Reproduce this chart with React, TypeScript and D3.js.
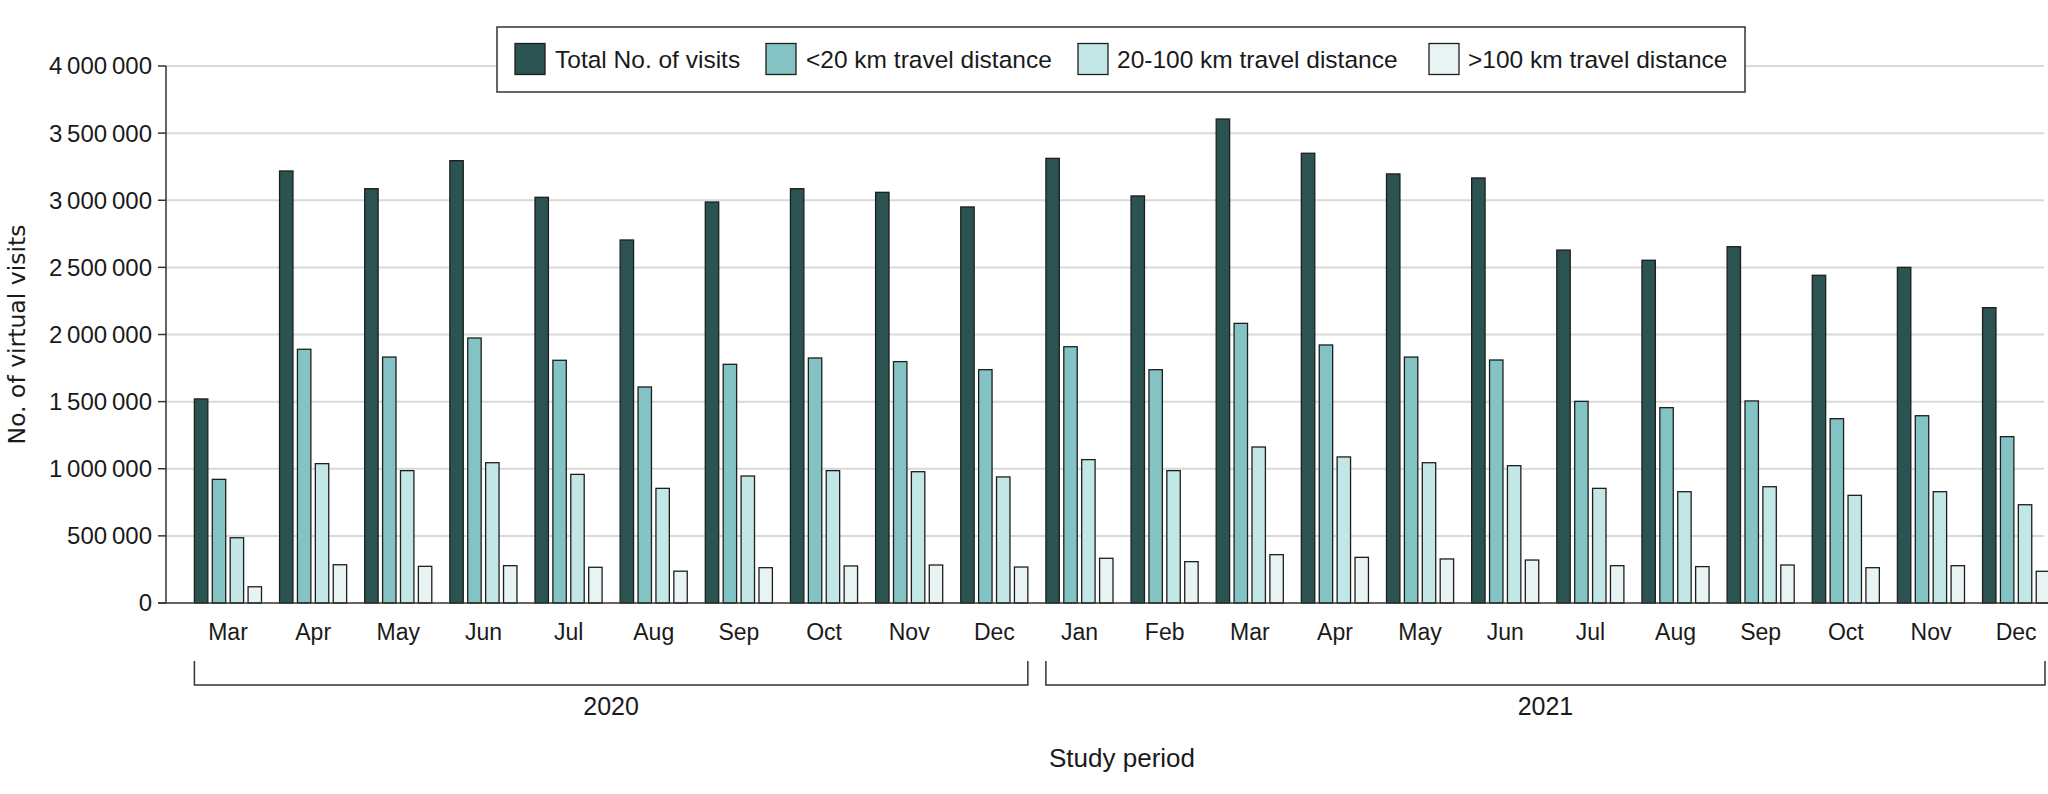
import React from "react";
import { scaleBand, scaleLinear, format } from "d3";

const months2020 = ["Mar", "Apr", "May", "Jun", "Jul", "Aug", "Sep", "Oct", "Nov", "Dec"];
const months2021 = ["Jan", "Feb", "Mar", "Apr", "May", "Jun", "Jul", "Aug", "Sep", "Oct", "Nov", "Dec"];
const years = ["2020", "2021"];

// values in visits
const totalVisits = [
  1520000, 3218000, 3086000, 3295000, 3022000, 2704000, 2987000, 3086000, 3059000, 2950000,
  3312000, 3032000, 3605000, 3350000, 3196000, 3166000, 2629000, 2553000, 2654000, 2441000, 2500000, 2200000,
];
const under20 = [
  921000, 1890000, 1832000, 1974000, 1808000, 1609000, 1778000, 1825000, 1798000, 1738000,
  1909000, 1738000, 2083000, 1922000, 1832000, 1810000, 1502000, 1455000, 1505000, 1373000, 1395000, 1239000,
];
const from20to100 = [
  486000, 1038000, 986000, 1045000, 958000, 854000, 946000, 986000, 978000, 939000,
  1068000, 986000, 1162000, 1088000, 1045000, 1023000, 854000, 829000, 866000, 802000, 829000, 732000,
];
const over100 = [
  121000, 285000, 273000, 278000, 266000, 237000, 263000, 276000, 283000, 268000,
  333000, 308000, 360000, 340000, 328000, 320000, 278000, 271000, 283000, 263000, 278000, 236000,
];

const seriesNames = [
  "Total No. of visits",
  "<20 km travel distance",
  "20-100 km travel distance",
  ">100 km travel distance",
];
const seriesValues = [totalVisits, under20, from20to100, over100];
const colors = ["#2a5352", "#84c3c3", "#c3e6e6", "#e8f4f4"];

const yTicks = [0, 500000, 1000000, 1500000, 2000000, 2500000, 3000000, 3500000, 4000000];

const periods = [
  ...months2020.map((m) => ({ key: `2020-${m}`, month: m, year: "2020" })),
  ...months2021.map((m) => ({ key: `2021-${m}`, month: m, year: "2021" })),
];

const W = 2048;
const H = 794;
const font = "'Liberation Sans', Arial, sans-serif";

const fmt = (v: number) => format(",")(v).replace(/,/g, "\u2009");

export default function App() {
  const y = scaleLinear().domain([0, 4000000]).range([603, 66]);
  const x0 = scaleBand()
    .domain(periods.map((p) => p.key))
    .range([185.4, 2058.7]);
  const x1 = scaleBand()
    .domain(seriesNames)
    .range([9, 76.1])
    .paddingInner(0.25);

  const axisX = 166;
  const gridEnd = 2044;

  // legend layout
  const legendItems = [
    { swatch: 515, text: 555 },
    { swatch: 766, text: 806 },
    { swatch: 1078, text: 1117 },
    { swatch: 1429, text: 1468 },
  ];

  return (
    <svg
      width={W}
      height={H}
      style={{ position: "absolute", left: 0, top: 0, background: "#fff" }}
      fontFamily={font}
    >
      <rect x={0} y={0} width={W} height={H} fill="#fff" />

      {/* grid */}
      {yTicks
        .filter((t) => t > 0)
        .map((t) => (
          <line
            key={t}
            x1={axisX}
            x2={gridEnd}
            y1={y(t)}
            y2={y(t)}
            stroke="#d9d9d9"
            strokeWidth={2}
          />
        ))}

      {/* bars */}
      {periods.map((p, i) => (
        <g key={p.key} transform={`translate(${x0(p.key)},0)`}>
          {seriesNames.map((s, j) => {
            const v = seriesValues[j][i];
            return (
              <rect
                key={s}
                x={x1(s)}
                y={y(v)}
                width={x1.bandwidth()}
                height={y(0) - y(v)}
                fill={colors[j]}
                stroke="#1e1e1e"
                strokeWidth={1.3}
              />
            );
          })}
        </g>
      ))}

      {/* y axis */}
      <line x1={axisX} x2={axisX} y1={y(4000000)} y2={y(0)} stroke="#333" strokeWidth={1.5} />
      <line x1={158} x2={W} y1={y(0)} y2={y(0)} stroke="#333" strokeWidth={1.5} />
      {yTicks.map((t) => (
        <g key={t}>
          <line x1={158} x2={axisX} y1={y(t)} y2={y(t)} stroke="#333" strokeWidth={1.5} />
          <text
            x={152}
            y={y(t)}
            dy="0.35em"
            textAnchor="end"
            fontSize={24}
            fill="#1a1a1a"
          >
            {fmt(t)}
          </text>
        </g>
      ))}
      <text
        transform={`translate(25,${(y(0) + y(4000000)) / 2}) rotate(-90)`}
        textAnchor="middle"
        fontSize={23.5}
        fill="#1a1a1a"
        fontFamily="'DejaVu Sans', Verdana, sans-serif"
      >
        No. of virtual visits
      </text>

      {/* x labels */}
      {periods.map((p) => (
        <text
          key={p.key}
          x={(x0(p.key) as number) + 42.6}
          y={640}
          textAnchor="middle"
          fontSize={23}
          fill="#1a1a1a"
        >
          {p.month}
        </text>
      ))}

      {/* year brackets */}
      {years.map((yr) => {
        const keys = periods.filter((p) => p.year === yr).map((p) => p.key);
        const left = (x0(keys[0]) as number) + 9;
        const right = Math.min((x0(keys[keys.length - 1]) as number) + 76.1, W - 3);
        return (
          <g key={yr}>
            <path
              d={`M${left},661V685H${right}V661`}
              fill="none"
              stroke="#333"
              strokeWidth={1.5}
            />
            <text x={(left + right) / 2} y={715} textAnchor="middle" fontSize={25} fill="#1a1a1a">
              {yr}
            </text>
          </g>
        );
      })}

      <text x={1122} y={767} textAnchor="middle" fontSize={26} fill="#1a1a1a">
        Study period
      </text>

      {/* legend */}
      <rect x={497} y={27} width={1248} height={65} fill="#fff" stroke="#333" strokeWidth={1.5} />
      {seriesNames.map((s, j) => (
        <g key={s}>
          <rect
            x={legendItems[j].swatch}
            y={43.5}
            width={30}
            height={31}
            fill={colors[j]}
            stroke="#1e1e1e"
            strokeWidth={1.3}
          />
          <text
            x={legendItems[j].text}
            y={59}
            dy="0.35em"
            fontSize={24.5}
            fill="#1a1a1a"
          >
            {s}
          </text>
        </g>
      ))}
    </svg>
  );
}
